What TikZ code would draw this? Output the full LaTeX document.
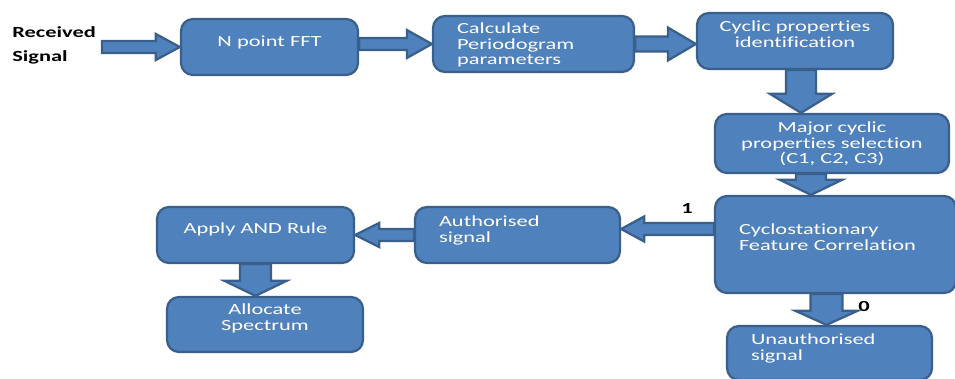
\documentclass[tikz,border=0pt]{standalone}
\usepackage{fontspec}
\setmainfont{Carlito}[FakeStretch=1.45,Ligatures=NoCommon]
\usetikzlibrary{calc}
\definecolor{boxblue}{HTML}{4F81BD}
\definecolor{edgeblue}{HTML}{3A5F8B}
\newcommand{\blockarrow}[5]{%
  \coordinate (ba) at ($(#5)!#3!(#4)$);
  \draw[barrow] ($(#4)!#1!90:(#5)$) -- ($(ba)!#1!90:(#5)$) -- ($(ba)!#2!90:(#5)$) -- (#5)
    -- ($(ba)!#2!-90:(#5)$) -- ($(ba)!#1!-90:(#5)$) -- ($(#4)!#1!-90:(#5)$) -- cycle;
}

\begin{document}
\begin{tikzpicture}[x=0.2mm,y=-0.2mm,
    blk/.style={draw=edgeblue,fill=boxblue,line width=0.45mm,rounded corners=2.4mm,
      text=white,font=\fontsize{8.8}{8.6}\selectfont,inner ysep=0pt},
    lblk/.style={blk,align=left,inner xsep=4.8mm},
    cblk/.style={blk,align=center,inner xsep=2mm},
    barrow/.style={draw=edgeblue,fill=boxblue,line width=0.45mm},
    lbl/.style={font=\fontsize{8.8}{8.6}\selectfont\bfseries,inner sep=0pt}]
  \useasboundingbox (0,0) rectangle (955,379);

  \node[cblk,text width=31.4mm,text height=5.6mm,text depth=5.6mm] (fft) at (269.5,47) {N point FFT};
  \node[lblk,text width=30.6mm,text height=3.6mm,text depth=7.6mm] (calc) at (533.5,44) {Calculate\\Periodogram\\parameters};
  \node[cblk,text width=35.2mm,text height=3.8mm,text depth=7.4mm] (cyc) at (795,41) {Cyclic properties\\identification};
  \node[cblk,text width=42.8mm,text height=3.8mm,text depth=8mm] (major) at (832,143.5) {Major cyclic\\properties selection\\(C1, C2, C3)};
  \node[lblk,text width=38.6mm,text height=7.8mm,text depth=11.6mm] (cyclo) at (835.5,244.5) {Cyclostationary\\Feature Correlation};
  \node[lblk,text width=31.4mm,text height=4mm,text depth=7.2mm] (auth) at (517.5,235) {Authorised\\signal};
  \node[cblk,text width=35.4mm,text height=5.4mm,text depth=5.8mm] (apply) at (255.5,235) {Apply AND Rule};
  \node[cblk,text width=35.2mm,text height=3.6mm,text depth=7.4mm] (alloc) at (265,324.5) {Allocate\\Spectrum};
  \node[lblk,text width=31.4mm,text height=3.8mm,text depth=7mm] (unauth) at (829.5,353) {Unauthorised\\signal};

  \node[lbl,anchor=west] (rcv) at (12,32) {Received};
  \node[lbl,anchor=west] (sig) at (12,57) {Signal};
  \node[lbl] (one) at (687,208) {1};
  \node[lbl] (zero) at (864,306) {0};

  \coordinate (in) at (102,47);
  \blockarrow{1.2mm}{2.6mm}{4.8mm}{in}{fft.west}
  \coordinate (a2) at (fft.east |- calc.west);
  \blockarrow{1.2mm}{2.8mm}{5mm}{a2}{calc.west}
  \coordinate (a3) at (calc.east -| cyc.west);
  \blockarrow{1.5mm}{3.3mm}{5.6mm}{calc.east}{a3}
  \coordinate (a4) at ($(cyc.south)+(6,0)$);
  \coordinate (a4e) at (a4 |- major.north);
  \blockarrow{3mm}{6.2mm}{3.8mm}{a4}{a4e}
  \coordinate (a5) at ($(major.south)+(-21,0)$);
  \coordinate (a5e) at (a5 |- cyclo.north);
  \blockarrow{3mm}{6.2mm}{3mm}{a5}{a5e}
  \coordinate (a6e) at ($(auth.east)+(0,-6)$);
  \coordinate (a6) at (cyclo.west |- a6e);
  \blockarrow{1.2mm}{2.5mm}{4.6mm}{a6}{a6e}
  \coordinate (a7) at (auth.west -| apply.east);
  \blockarrow{1.2mm}{2.4mm}{4.8mm}{auth.west}{a7}
  \coordinate (a8) at (apply.south |- alloc.north);
  \blockarrow{3.1mm}{6.2mm}{3mm}{apply.south}{a8}
  \coordinate (a9e) at ($(unauth.north)+(-3,0)$);
  \coordinate (a9) at (cyclo.south -| a9e);
  \blockarrow{3.2mm}{6.2mm}{2.8mm}{a9}{a9e}
\end{tikzpicture}
\end{document}
